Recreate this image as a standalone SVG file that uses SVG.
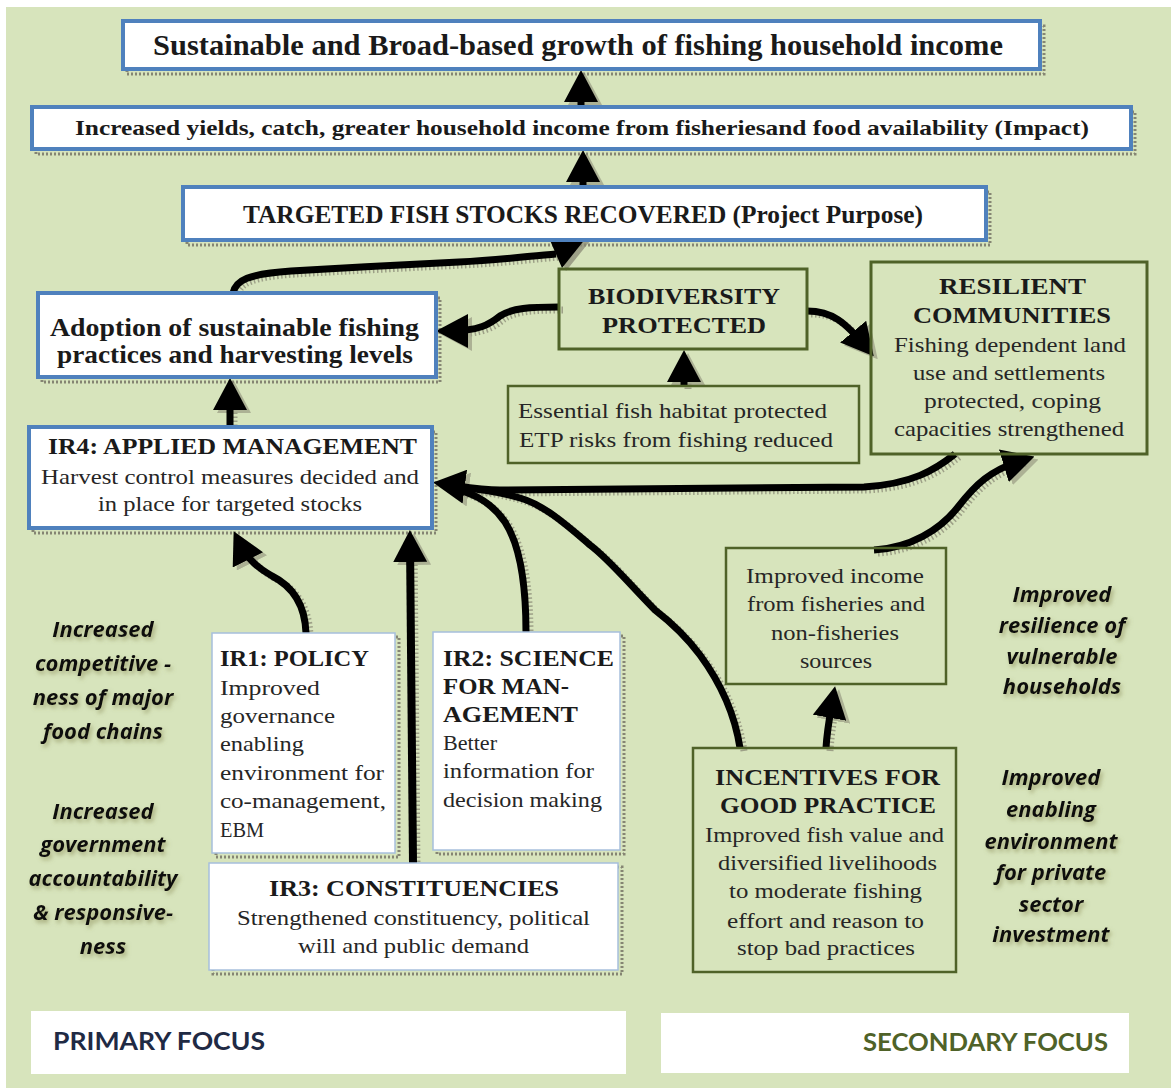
<svg xmlns="http://www.w3.org/2000/svg" xmlns:xlink="http://www.w3.org/1999/xlink" width="1171" height="1088" viewBox="0 0 1171 1088">
  <style>
    .t { font-family: "Liberation Serif", "Times New Roman", serif; fill: #1a1a1a; }
    .b { font-weight: bold; }
    .r { fill: #262626; }
    .f29 { font-size: 29px; }
    .f25 { font-size: 25px; }
    .f24 { font-size: 24px; }
    .f23 { font-size: 23px; }
    .f22 { font-size: 22px; }
    .f21 { font-size: 21px; }
    .bx-blue { fill: #ffffff; stroke: #4f81bd; stroke-width: 4; }
    .bx-ir { fill: #ffffff; stroke: #a7bfdc; stroke-width: 1.5; }
    .bx-olive { fill: none; stroke: #4f6228; stroke-width: 3; }
    .bx-sh { fill: none; stroke: #858573; stroke-width: 3; stroke-dasharray: 2 2; }
    .ln { fill: none; stroke: #000000; stroke-width: 7; stroke-linecap: butt; }
    .ln-sh { fill: none; stroke: #8a8a76; stroke-width: 7; stroke-dasharray: 1.5 2.5; opacity: 0.75; }
    .hd { marker-end: url(#head); }
    .hd-sh { marker-end: url(#headSh); }
    .note { font-family: "Open Sans", "Lato", sans-serif; font-weight: bold; font-style: italic; font-size: 22px; fill: #111111; text-anchor: middle; filter: url(#glow); }
    .focus { font-family: "Lato", "Open Sans", sans-serif; font-weight: bold; font-size: 24px; }
  </style>
  <defs>
    <marker id="head" viewBox="0 0 32 34" refX="20" refY="17" markerWidth="32" markerHeight="34" markerUnits="userSpaceOnUse" orient="auto">
      <path d="M0,0 L32,17 L0,34 z" fill="#000000"/>
    </marker>
    <marker id="headSh" viewBox="0 0 32 34" refX="20" refY="17" markerWidth="32" markerHeight="34" markerUnits="userSpaceOnUse" orient="auto">
      <path d="M0,0 L32,17 L0,34 z" fill="#8a8a76" opacity="0.75"/>
    </marker>
    <filter id="glow" x="-20%" y="-40%" width="140%" height="180%">
      <feGaussianBlur in="SourceAlpha" stdDeviation="2.2" result="bl"/>
      <feOffset in="bl" dx="2" dy="3" result="off"/>
      <feFlood flood-color="#7d7d45" flood-opacity="0.55"/>
      <feComposite in2="off" operator="in" result="sh"/>
      <feMerge><feMergeNode in="sh"/><feMergeNode in="SourceGraphic"/></feMerge>
    </filter>
    <!-- connector geometry, drawn once as shadow and once in black -->
    <path id="c-impact-growth" d="M581,107 L581,82"/>
    <path id="c-stocks-impact" d="M583,187 L583,162"/>
    <path id="c-ir4-adopt" d="M230,427 L230,390"/>
    <path id="c-adopt-stocks" d="M233,293 C236,280 248,274 291,271 C340,268 420,264 459,262 C500,260 530,256 556,254"/>
    <path id="c-bio-adopt" d="M559,307 C530,307 512,308 500,316 C490,324 480,331 448,331"/>
    <path id="c-bio-res" d="M807,311 C832,311 845,322 866,347"/>
    <path id="c-ess-bio" d="M684,386 L684,362"/>
    <path id="c-ir1-ir4" d="M306,633 C305,603 292,586 272,576 C258,568 248,560 239,542"/>
    <path id="c-ir3-ir4" d="M413,863 L410,542"/>
    <path id="c-ir2-ir4" d="M526,632 C526,585 520,545 505,522 C490,500 470,492 446,486"/>
    <path id="c-inc-ir4" d="M740,748 C735,715 722,685 700,655 C685,635 668,620 655,610 C630,585 610,560 590,545 C570,528 545,505 520,498 C500,492 480,489 462,488"/>
    <path id="c-res-ir4" d="M955,454 C935,470 912,484 864,487 L500,490 C480,490 460,486 445,484"/>
    <path id="c-incent-income" d="M826,748 C827,730 830,715 833,698"/>
    <path id="c-income-res" d="M874,550 C910,548 940,530 958,507 C975,485 990,470 1023,460"/>
  </defs>

  <!-- page and panel background -->
  <rect x="0" y="0" width="1171" height="1088" fill="#ffffff"/>
  <rect x="6" y="7" width="1165" height="1081" fill="#d7e4bc"/>

  <!-- box shadows (white boxes only) -->
  <g id="shadows">
    <rect class="bx-sh" x="127" y="26" width="917" height="48"/>
    <rect class="bx-sh" x="36" y="112" width="1099" height="42"/>
    <rect class="bx-sh" x="187" y="192" width="803" height="53"/>
    <rect class="bx-sh" x="42" y="298" width="398" height="84"/>
    <rect class="bx-sh" x="33" y="432" width="403" height="101"/>
    <rect class="bx-sh" x="216" y="637" width="183" height="220"/>
    <rect class="bx-sh" x="437" y="636" width="187" height="218"/>
    <rect class="bx-sh" x="213" y="867" width="409" height="107"/>
  </g>

  <!-- connectors -->
  <g id="connectors">
    <g transform="translate(4,3)">
      <use xlink:href="#c-impact-growth" class="ln-sh hd-sh"/>
      <use xlink:href="#c-stocks-impact" class="ln-sh hd-sh"/>
      <use xlink:href="#c-ir4-adopt" class="ln-sh hd-sh"/>
      <use xlink:href="#c-adopt-stocks" class="ln-sh"/>
      <use xlink:href="#c-bio-adopt" class="ln-sh hd-sh"/>
      <use xlink:href="#c-bio-res" class="ln-sh hd-sh"/>
      <use xlink:href="#c-ess-bio" class="ln-sh hd-sh"/>
      <use xlink:href="#c-ir1-ir4" class="ln-sh hd-sh"/>
      <use xlink:href="#c-ir3-ir4" class="ln-sh hd-sh"/>
      <use xlink:href="#c-ir2-ir4" class="ln-sh"/>
      <use xlink:href="#c-inc-ir4" class="ln-sh"/>
      <use xlink:href="#c-res-ir4" class="ln-sh hd-sh"/>
      <use xlink:href="#c-incent-income" class="ln-sh hd-sh"/>
      <use xlink:href="#c-income-res" class="ln-sh hd-sh"/>
      <polygon points="549,238 586,238 562,268" fill="#8a8a76" opacity="0.75"/>
    </g>
    <use xlink:href="#c-impact-growth" class="ln hd"/>
    <use xlink:href="#c-stocks-impact" class="ln hd"/>
    <use xlink:href="#c-ir4-adopt" class="ln hd"/>
    <use xlink:href="#c-adopt-stocks" class="ln"/>
    <polygon points="549,238 586,238 562,268" fill="#000000"/>
    <use xlink:href="#c-bio-adopt" class="ln hd"/>
    <use xlink:href="#c-bio-res" class="ln hd"/>
    <use xlink:href="#c-ess-bio" class="ln hd"/>
    <use xlink:href="#c-ir1-ir4" class="ln hd"/>
    <use xlink:href="#c-ir3-ir4" class="ln hd" style="stroke-width:8"/>
    <use xlink:href="#c-ir2-ir4" class="ln"/>
    <use xlink:href="#c-inc-ir4" class="ln"/>
    <use xlink:href="#c-res-ir4" class="ln hd"/>
    <use xlink:href="#c-incent-income" class="ln hd"/>
    <use xlink:href="#c-income-res" class="ln hd"/>
  </g>

  <!-- goal hierarchy -->
  <g id="growth">
    <rect class="bx-blue" x="123" y="21" width="917" height="48"/>
    <text class="t b f29" x="153" y="55" textLength="850" lengthAdjust="spacingAndGlyphs">Sustainable and Broad-based growth of  fishing household income</text>
  </g>
  <g id="impact">
    <rect class="bx-blue" x="32" y="107" width="1099" height="42"/>
    <text class="t b f22" x="75" y="135" textLength="1014" lengthAdjust="spacingAndGlyphs">Increased yields, catch, greater household income from fisheriesand food availability (Impact)</text>
  </g>
  <g id="stocks">
    <rect class="bx-blue" x="183" y="187" width="803" height="53"/>
    <text class="t b f25" x="243" y="223" textLength="680" lengthAdjust="spacingAndGlyphs">TARGETED FISH STOCKS RECOVERED (Project Purpose)</text>
  </g>
  <g id="adoption">
    <rect class="bx-blue" x="38" y="293" width="398" height="84"/>
    <text class="t b f25" x="50" y="336" textLength="369" lengthAdjust="spacingAndGlyphs">Adoption of sustainable fishing</text>
    <text class="t b f25" x="57" y="363" textLength="356" lengthAdjust="spacingAndGlyphs">practices  and harvesting levels</text>
  </g>
  <g id="ir4">
    <rect class="bx-blue" x="29" y="427" width="403" height="101"/>
    <text class="t b f23" x="48" y="454" textLength="369" lengthAdjust="spacingAndGlyphs">IR4: APPLIED MANAGEMENT</text>
    <text class="t r f21" x="41" y="484" textLength="378" lengthAdjust="spacingAndGlyphs">Harvest control measures decided and</text>
    <text class="t r f21" x="98" y="511" textLength="264" lengthAdjust="spacingAndGlyphs">in place for targeted stocks</text>
  </g>

  <!-- secondary outcomes -->
  <g id="biodiversity">
    <rect class="bx-olive" x="559" y="269" width="248" height="80"/>
    <text class="t b f24" x="588" y="304" textLength="192" lengthAdjust="spacingAndGlyphs">BIODIVERSITY</text>
    <text class="t b f24" x="602" y="333" textLength="164" lengthAdjust="spacingAndGlyphs">PROTECTED</text>
  </g>
  <g id="resilient">
    <rect class="bx-olive" x="871" y="262" width="276" height="192"/>
    <text class="t b f24" x="939" y="294" textLength="147" lengthAdjust="spacingAndGlyphs">RESILIENT</text>
    <text class="t b f24" x="913" y="323" textLength="198" lengthAdjust="spacingAndGlyphs">COMMUNITIES</text>
    <text class="t r f21" x="894" y="352" textLength="232" lengthAdjust="spacingAndGlyphs">Fishing dependent land</text>
    <text class="t r f21" x="913" y="380" textLength="192" lengthAdjust="spacingAndGlyphs">use and settlements</text>
    <text class="t r f21" x="924" y="408" textLength="177" lengthAdjust="spacingAndGlyphs">protected, coping</text>
    <text class="t r f21" x="894" y="436" textLength="230" lengthAdjust="spacingAndGlyphs">capacities strengthened</text>
  </g>
  <g id="habitat">
    <rect class="bx-olive" x="508" y="386" width="351" height="77" style="stroke-width:2.5"/>
    <text class="t r f21" x="518" y="418" textLength="309" lengthAdjust="spacingAndGlyphs">Essential fish habitat protected</text>
    <text class="t r f21" x="519" y="447" textLength="314" lengthAdjust="spacingAndGlyphs">ETP risks from fishing reduced</text>
  </g>
  <g id="income">
    <rect class="bx-olive" x="726" y="548" width="220" height="136" style="stroke-width:2.5"/>
    <text class="t r f21" x="746" y="583" textLength="178" lengthAdjust="spacingAndGlyphs">Improved income</text>
    <text class="t r f21" x="747" y="611" textLength="178" lengthAdjust="spacingAndGlyphs">from fisheries and</text>
    <text class="t r f21" x="771" y="640" textLength="128" lengthAdjust="spacingAndGlyphs">non-fisheries</text>
    <text class="t r f21" x="800" y="668" textLength="72" lengthAdjust="spacingAndGlyphs">sources</text>
  </g>
  <g id="incentives">
    <rect class="bx-olive" x="693" y="748" width="263" height="224" style="stroke-width:2.5"/>
    <text class="t b f24" x="715" y="785" textLength="225" lengthAdjust="spacingAndGlyphs">INCENTIVES FOR</text>
    <text class="t b f24" x="720" y="813" textLength="216" lengthAdjust="spacingAndGlyphs">GOOD PRACTICE</text>
    <text class="t r f21" x="705" y="842" textLength="239" lengthAdjust="spacingAndGlyphs">Improved fish value and</text>
    <text class="t r f21" x="718" y="870" textLength="219" lengthAdjust="spacingAndGlyphs">diversified livelihoods</text>
    <text class="t r f21" x="729" y="898" textLength="193" lengthAdjust="spacingAndGlyphs">to moderate fishing</text>
    <text class="t r f21" x="727" y="928" textLength="197" lengthAdjust="spacingAndGlyphs">effort and reason to</text>
    <text class="t r f21" x="737" y="955" textLength="178" lengthAdjust="spacingAndGlyphs">stop bad practices</text>
  </g>

  <!-- intermediate results -->
  <g id="ir1">
    <rect class="bx-ir" x="212" y="633" width="183" height="220"/>
    <text class="t b f24" x="220" y="666" textLength="149" lengthAdjust="spacingAndGlyphs">IR1: POLICY</text>
    <text class="t r f21" x="220" y="695" textLength="100" lengthAdjust="spacingAndGlyphs">Improved</text>
    <text class="t r f21" x="220" y="723" textLength="115" lengthAdjust="spacingAndGlyphs">governance</text>
    <text class="t r f21" x="220" y="751" textLength="84" lengthAdjust="spacingAndGlyphs">enabling</text>
    <text class="t r f21" x="220" y="780" textLength="164" lengthAdjust="spacingAndGlyphs">environment for</text>
    <text class="t r f21" x="220" y="808" textLength="166" lengthAdjust="spacingAndGlyphs">co-management,</text>
    <text class="t r f21" x="220" y="837" textLength="44" lengthAdjust="spacingAndGlyphs">EBM</text>
  </g>
  <g id="ir2">
    <rect class="bx-ir" x="433" y="632" width="187" height="218"/>
    <text class="t b f24" x="443" y="666" textLength="171" lengthAdjust="spacingAndGlyphs">IR2: SCIENCE</text>
    <text class="t b f24" x="443" y="694" textLength="126" lengthAdjust="spacingAndGlyphs">FOR MAN-</text>
    <text class="t b f24" x="443" y="722" textLength="135" lengthAdjust="spacingAndGlyphs">AGEMENT</text>
    <text class="t r f21" x="443" y="750" textLength="54" lengthAdjust="spacingAndGlyphs">Better</text>
    <text class="t r f21" x="443" y="778" textLength="151" lengthAdjust="spacingAndGlyphs">information for</text>
    <text class="t r f21" x="443" y="807" textLength="159" lengthAdjust="spacingAndGlyphs">decision making</text>
  </g>
  <g id="ir3">
    <rect class="bx-ir" x="209" y="863" width="409" height="107"/>
    <text class="t b f24" x="269" y="896" textLength="290" lengthAdjust="spacingAndGlyphs">IR3: CONSTITUENCIES</text>
    <text class="t r f21" x="237" y="925" textLength="353" lengthAdjust="spacingAndGlyphs">Strengthened constituency, political</text>
    <text class="t r f21" x="298" y="953" textLength="231" lengthAdjust="spacingAndGlyphs">will and public demand</text>
  </g>

  <!-- side notes -->
  <g id="note-competitiveness">
    <text class="note" x="103" y="637">Increased</text>
    <text class="note" x="103" y="671">competitive -</text>
    <text class="note" x="103" y="705">ness of major</text>
    <text class="note" x="103" y="739">food chains</text>
  </g>
  <g id="note-accountability">
    <text class="note" x="103" y="819">Increased</text>
    <text class="note" x="103" y="852">government</text>
    <text class="note" x="103" y="886">accountability</text>
    <text class="note" x="103" y="920">&amp; responsive-</text>
    <text class="note" x="103" y="954">ness</text>
  </g>
  <g id="note-resilience">
    <text class="note" x="1062" y="602">Improved</text>
    <text class="note" x="1062" y="633">resilience of</text>
    <text class="note" x="1062" y="664">vulnerable</text>
    <text class="note" x="1062" y="694">households</text>
  </g>
  <g id="note-enabling">
    <text class="note" x="1051" y="785">Improved</text>
    <text class="note" x="1051" y="817">enabling</text>
    <text class="note" x="1051" y="849">environment</text>
    <text class="note" x="1051" y="880">for private</text>
    <text class="note" x="1051" y="912">sector</text>
    <text class="note" x="1051" y="942">investment</text>
  </g>

  <!-- focus legend -->
  <g id="primary-focus">
    <rect x="31" y="1011" width="595" height="63" fill="#ffffff"/>
    <text class="focus" x="53" y="1050" fill="#1f2a44" textLength="212" lengthAdjust="spacingAndGlyphs">PRIMARY FOCUS</text>
  </g>
  <g id="secondary-focus">
    <rect x="661" y="1013" width="468" height="60" fill="#ffffff"/>
    <text class="focus" x="863" y="1051" fill="#4f6228" textLength="245" lengthAdjust="spacingAndGlyphs">SECONDARY FOCUS</text>
  </g>
</svg>
